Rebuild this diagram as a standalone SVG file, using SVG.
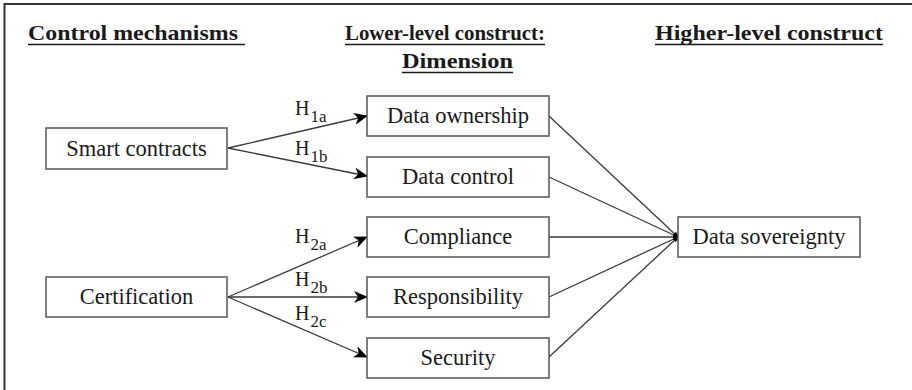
<svg xmlns="http://www.w3.org/2000/svg" width="912" height="390" viewBox="0 0 912 390">
<style>
text{font-family:'Liberation Serif','DejaVu Serif',serif}
.hdr{font-size:22px;font-weight:bold;fill:#1a1a1a}
.ul{stroke:#1a1a1a;stroke-width:1.6}
.box{fill:#fff;stroke:#555;stroke-width:1.5}
.lbl{font-size:22.5px;fill:#1a1a1a;text-anchor:middle}
.h{font-size:20px;fill:#1a1a1a}
.sub{font-size:17px}
.con{stroke:#3a3a3a;stroke-width:1.3;fill:none}
</style>
<defs>
<marker id="arr" viewBox="0 0 14 12" refX="13" refY="6" markerWidth="14" markerHeight="12" markerUnits="userSpaceOnUse" orient="auto">
<path d="M0,0 L14,6 L0,12 L4,6 Z" fill="#000"/>
</marker>
<marker id="dot" viewBox="0 0 6 6" refX="5" refY="3" markerWidth="6" markerHeight="6" markerUnits="userSpaceOnUse" orient="auto">
<path d="M0,0.5 L6,3 L0,5.5 Z" fill="#000"/>
</marker>
</defs>
<g id="frame">
<line x1="4" y1="4" x2="912" y2="4" stroke="#333" stroke-width="2"/>
<line x1="4.5" y1="3" x2="4.5" y2="390" stroke="#333" stroke-width="2"/>
</g>
<g id="headers">
<text class="hdr" x="28" y="40" textLength="210" lengthAdjust="spacingAndGlyphs">Control mechanisms</text>
<line class="ul" x1="28" y1="44.5" x2="245" y2="44.5"/>
<text class="hdr" x="345" y="40" textLength="200" lengthAdjust="spacingAndGlyphs">Lower-level construct:</text>
<line class="ul" x1="345" y1="44.5" x2="545" y2="44.5"/>
<text class="hdr" x="402" y="68" textLength="111" lengthAdjust="spacingAndGlyphs">Dimension</text>
<line class="ul" x1="402" y1="72.5" x2="513" y2="72.5"/>
<text class="hdr" x="655" y="40" textLength="228" lengthAdjust="spacingAndGlyphs">Higher-level construct</text>
<line class="ul" x1="655" y1="44.5" x2="883" y2="44.5"/>
</g>
<g id="connectors">
<line class="con" x1="228" y1="148" x2="367" y2="116" marker-end="url(#arr)"/>
<line class="con" x1="228" y1="148" x2="367" y2="176" marker-end="url(#arr)"/>
<line class="con" x1="228" y1="297" x2="367" y2="237" marker-end="url(#arr)"/>
<line class="con" x1="228" y1="297" x2="367" y2="297" marker-end="url(#arr)"/>
<line class="con" x1="228" y1="297" x2="367" y2="357" marker-end="url(#arr)"/>
<line class="con" x1="549" y1="116" x2="678" y2="237" marker-end="url(#dot)"/>
<line class="con" x1="549" y1="177" x2="678" y2="237" marker-end="url(#dot)"/>
<line class="con" x1="549" y1="237" x2="678" y2="237" marker-end="url(#dot)"/>
<line class="con" x1="549" y1="297" x2="678" y2="237" marker-end="url(#dot)"/>
<line class="con" x1="549" y1="357" x2="678" y2="237" marker-end="url(#dot)"/>
<text class="h" x="295" y="115">H<tspan class="sub" dx="1" dy="7">1a</tspan></text>
<text class="h" x="295" y="155">H<tspan class="sub" dx="1" dy="7">1b</tspan></text>
<text class="h" x="295" y="243">H<tspan class="sub" dx="1" dy="7">2a</tspan></text>
<text class="h" x="295" y="286">H<tspan class="sub" dx="1" dy="7">2b</tspan></text>
<text class="h" x="295" y="320">H<tspan class="sub" dx="1" dy="7">2c</tspan></text>
</g>
<g id="smart-contracts">
<rect class="box" x="46" y="128" width="181" height="41"/>
<text class="lbl" x="136.5" y="156">Smart contracts</text>
</g>
<g id="certification">
<rect class="box" x="46" y="277" width="181" height="40"/>
<text class="lbl" x="136.5" y="304">Certification</text>
</g>
<g id="data-ownership">
<rect class="box" x="367" y="96" width="182" height="40"/>
<text class="lbl" x="458" y="123">Data ownership</text>
</g>
<g id="data-control">
<rect class="box" x="367" y="157" width="182" height="40"/>
<text class="lbl" x="458" y="184">Data control</text>
</g>
<g id="compliance">
<rect class="box" x="367" y="217" width="182" height="40"/>
<text class="lbl" x="458" y="244">Compliance</text>
</g>
<g id="responsibility">
<rect class="box" x="367" y="277" width="182" height="40"/>
<text class="lbl" x="458" y="304">Responsibility</text>
</g>
<g id="security">
<rect class="box" x="367" y="338" width="182" height="40"/>
<text class="lbl" x="458" y="365">Security</text>
</g>
<g id="data-sovereignty">
<rect class="box" x="678" y="217" width="182" height="40"/>
<text class="lbl" x="769" y="244">Data sovereignty</text>
</g>
</svg>
